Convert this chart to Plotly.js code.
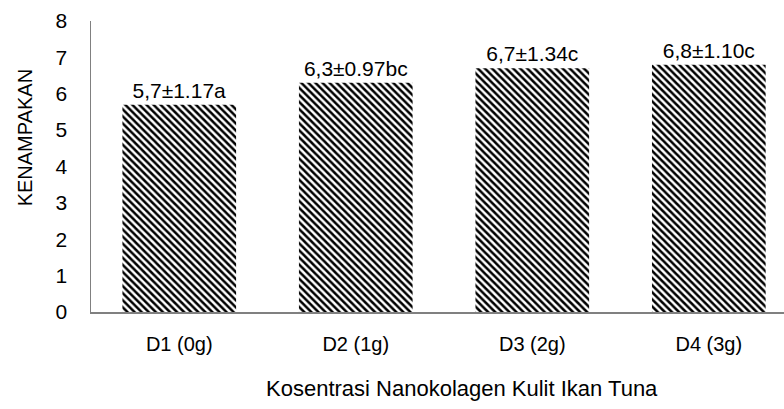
<!DOCTYPE html>
<html>
<head>
<meta charset="utf-8">
<script src="https://cdn.plot.ly/plotly-3.0.1.min.js"></script>
<style>html,body{margin:0;padding:0;background:#fff;}#chart{width:784px;height:409px;}</style>
</head>
<body>
<div id="chart"></div>
<script>
const categories = ["D1 (0g)", "D2 (1g)", "D3 (2g)", "D4 (3g)"];
const values = [5.7, 6.3, 6.7, 6.8];
const labels = ["5,7±1.17a", "6,3±0.97bc", "6,7±1.34c", "6,8±1.10c"];
const yTicks = [0, 1, 2, 3, 4, 5, 6, 7, 8];
const xTitle = "Kosentrasi Nanokolagen Kulit Ikan Tuna";
const yTitle = "KENAMPAKAN";

const FONT = "'Liberation Sans Narrow', 'Arial Narrow', 'Liberation Sans', Arial, sans-serif";

const trace = {
  type: 'bar',
  x: categories,
  y: values,
  text: labels,
  textposition: 'outside',
  constraintext: 'none',
  cliponaxis: false,
  textfont: {family: FONT, size: 21, color: '#000'},
  width: 0.644,
  marker: {
    color: '#ffffff',
    line: {width: 0},
    pattern: {shape: '\\', fgcolor: '#000000', bgcolor: '#ffffff', size: 5, solidity: 0.5}
  },
  hoverinfo: 'none'
};

const layout = {
  width: 784, height: 409,
  margin: {l: 90.5, r: 0, t: 21, b: 96.5},
  paper_bgcolor: '#fff', plot_bgcolor: '#fff',
  showlegend: false,
  font: {family: FONT, size: 20, color: '#000'},
  xaxis: {
    range: [-0.5, 3.426],
    showline: true, linecolor: '#808080', linewidth: 1.5,
    showgrid: false, zeroline: false, ticks: '',
    ticklabelstandoff: 13,
    tickfont: {family: FONT, size: 20, color: '#000'}
  },
  yaxis: {
    range: [0, 8],
    tickvals: yTicks,
    ticktext: yTicks.map(String),
    showline: true, linecolor: '#808080', linewidth: 1.5,
    showgrid: false, zeroline: false, ticks: '',
    ticklabelstandoff: 18,
    tickfont: {family: FONT, size: 21, color: '#000'}
  },
  annotations: [
    {text: xTitle, xref: 'paper', yref: 'paper', x: 0.535, y: -0.262,
     xanchor: 'center', yanchor: 'middle', showarrow: false,
     font: {family: FONT, size: 22, color: '#000'}},
    {text: yTitle, xref: 'paper', yref: 'paper', x: -0.0959, y: 0.5986,
     xanchor: 'center', yanchor: 'middle', textangle: -90, showarrow: false,
     font: {family: FONT, size: 20, color: '#000'}}
  ]
};

Plotly.newPlot('chart', [trace], layout, {staticPlot: true, displayModeBar: false});
</script>
</body>
</html>
